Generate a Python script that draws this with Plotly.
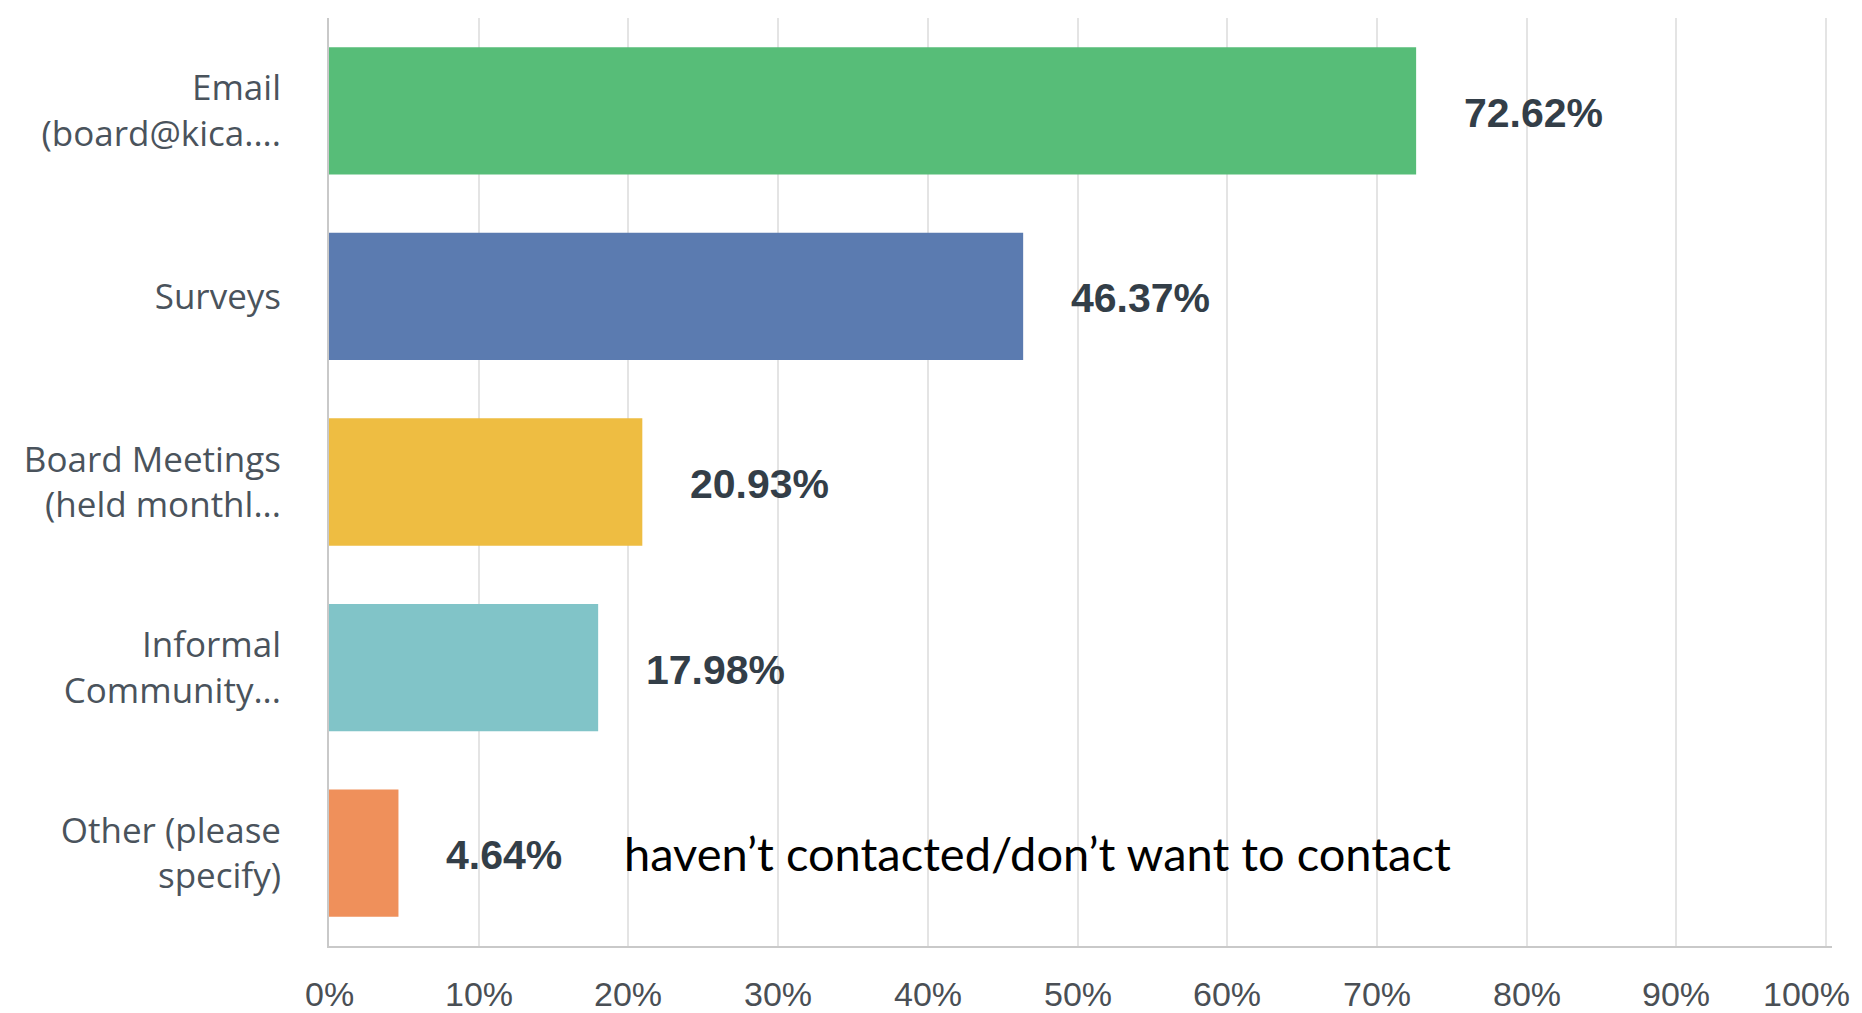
import plotly.graph_objects as go

# Survey responses: preferred ways of contacting the board
categories = [
    "Email<br>(board@kica....",
    "Surveys",
    "Board Meetings<br>(held monthl...",
    "Informal<br>Community...",
    "Other (please<br>specify)",
]
percentages = [72.62, 46.37, 20.93, 17.98, 4.64]
bar_colors = ["#57bd78", "#5b7bb0", "#eebd42", "#81c4c8", "#ef905b"]
x_ticks = [0, 10, 20, 30, 40, 50, 60, 70, 80, 90, 100]
x_tick_labels = [f"{t}%" for t in x_ticks]
note_text = "haven\u2019t contacted/don\u2019t want to contact"

fig = go.Figure()
fig.add_trace(go.Bar(
    x=percentages,
    y=categories,
    orientation="h",
    marker=dict(color=bar_colors, line=dict(width=0)),
    hoverinfo="skip",
))

# value labels to the right of each bar
for cat, val in zip(categories, percentages):
    fig.add_annotation(
        x=val, y=cat, xref="x", yref="y",
        text=f"<b>{val:.2f}%</b>",
        showarrow=False, xanchor="left", yanchor="middle",
        xshift=46, yshift=-2,
        font=dict(family="Liberation Sans, Arial, sans-serif", size=41, color="#333e48"),
    )

# free-text note beside the "Other" bar
fig.add_annotation(
    x=19.6, y=categories[-1], xref="x", yref="y",
    text=note_text, showarrow=False, xanchor="left", yanchor="middle",
    font=dict(family="Lato, sans-serif", size=47, color="#000000"),
)

# percentage tick labels under the axis; the last one is kept inside the page
for t, lbl in zip(x_ticks, x_tick_labels):
    last = t == x_ticks[-1]
    fig.add_annotation(
        x=t, y=0, xref="x", yref="paper",
        text=lbl, showarrow=False,
        xanchor="right" if last else "center", yanchor="middle",
        xshift=26 if last else 0, yshift=-48,
        font=dict(family="Liberation Sans, Arial, sans-serif", size=34, color="#4a4f55"),
    )

fig.update_layout(
    width=1862, height=1013,
    margin=dict(l=329, r=30, t=18, b=67),
    paper_bgcolor="white", plot_bgcolor="white",
    showlegend=False,
    bargap=0.314,
    xaxis=dict(
        range=[0, 100.4], tickvals=x_ticks, showticklabels=False,
        showgrid=True, gridcolor="#e4e4e4", gridwidth=2,
        showline=True, linecolor="#c9c9c9", linewidth=2,
        zeroline=False, ticks="",
        automargin=False, fixedrange=True,
    ),
    yaxis=dict(
        categoryorder="array", categoryarray=categories[::-1],
        range=[-0.5, 4.5],
        showgrid=False, showline=True, linecolor="#c9c9c9", linewidth=2,
        ticks="", ticklabelstandoff=39,
        tickfont=dict(family="Open Sans, sans-serif", size=35, color="#4a535c"),
        automargin=False, fixedrange=True,
    ),
)

fig.write_html("out.html")
